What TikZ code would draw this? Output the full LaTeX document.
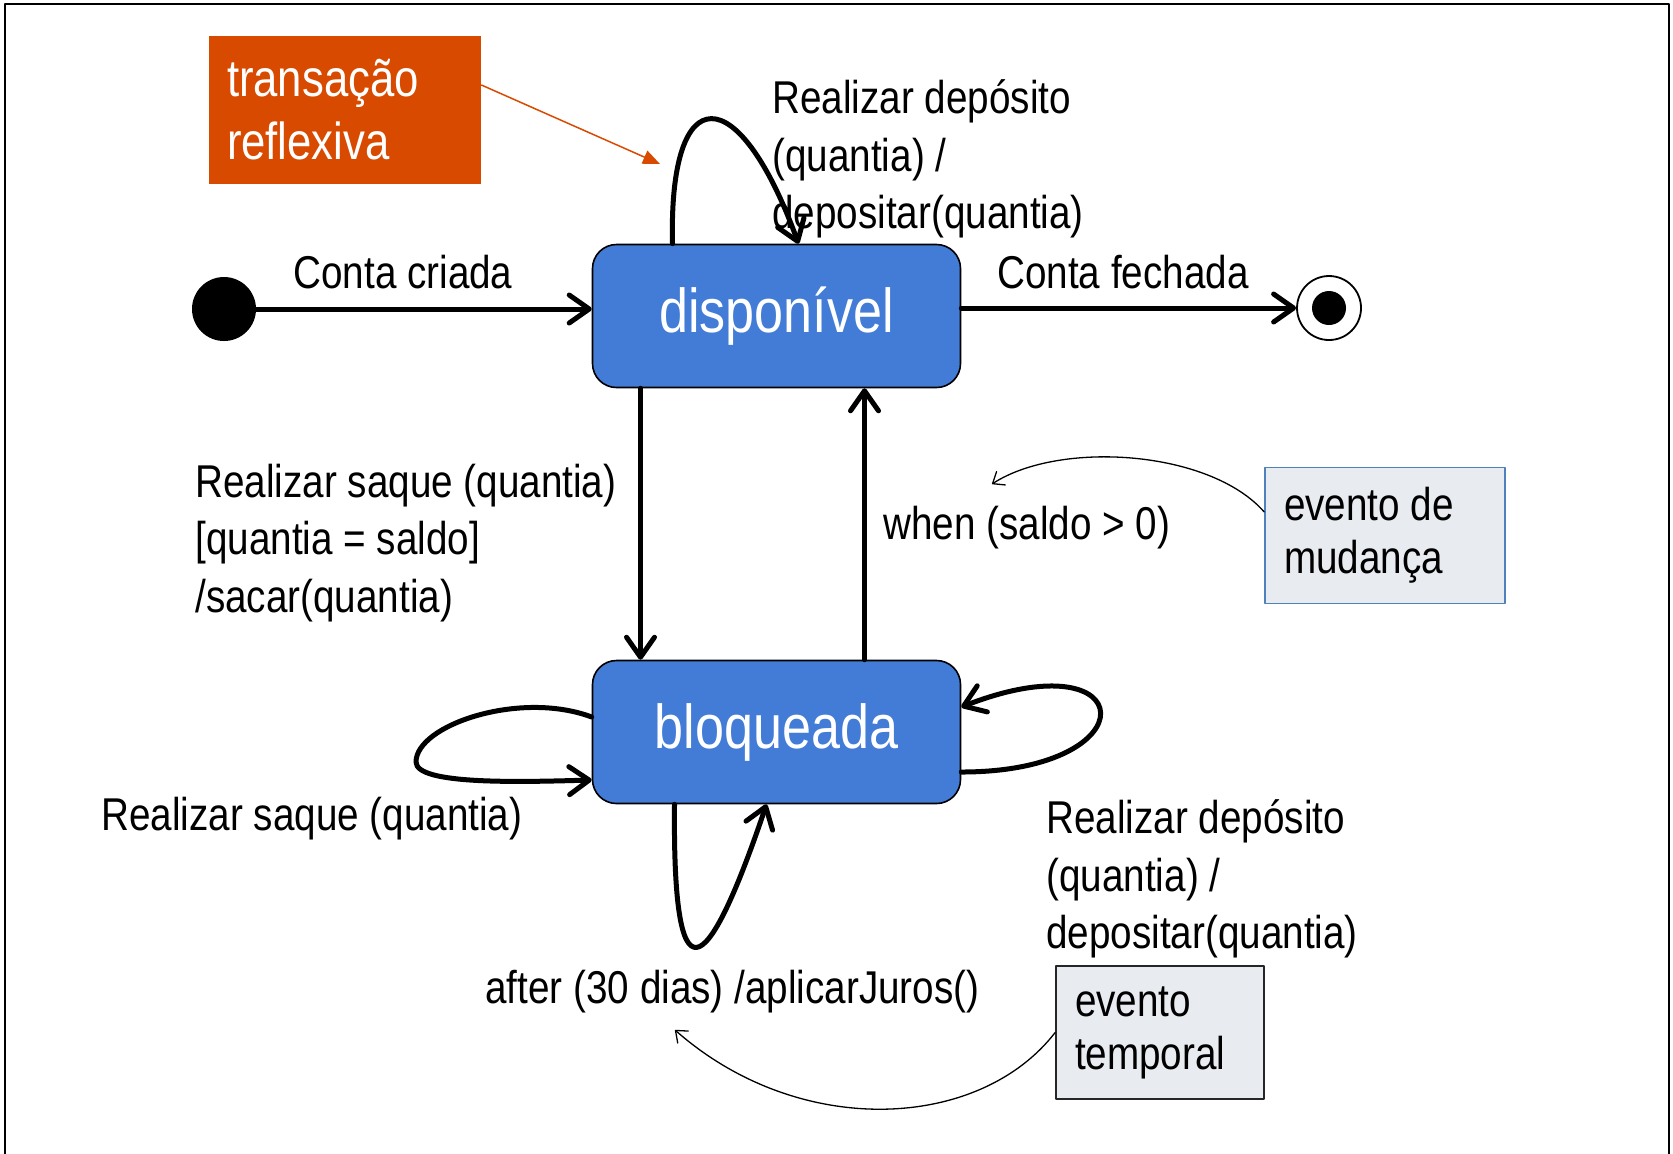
\documentclass[tikz,border=0pt]{standalone}
\usepackage{fontspec}
\setmainfont{Liberation Sans}[FakeStretch=0.84]
\usetikzlibrary{arrows.meta,positioning}
\definecolor{azulest}{RGB}{66,124,214}
\definecolor{laranja}{RGB}{216,74,0}
\definecolor{cinzanota}{RGB}{232,235,240}
\definecolor{bordanota}{RGB}{79,129,189}
\begin{document}
\begin{tikzpicture}[line cap=round,line join=round,x=.5pt,y=-.5pt,
		estado/.style={draw=black,line width=.8pt,fill=azulest,rounded corners=12pt,minimum width=184pt,minimum height=71.5pt,inner sep=0pt,text=white,font=\fontsize{31}{36}\selectfont},
		rotulo/.style={inner sep=0pt,align=left,font=\fontsize{23}{28.8}\selectfont},
		nota/.style={fill=cinzanota,inner xsep=9.5pt,inner ysep=0pt,align=flush left,font=\fontsize{23}{26.5}\selectfont},
		trans/.style={line width=2.5pt,-{Straight Barb[length=10pt,width=14pt,round]}},
		setanota/.style={line width=.65pt,-{Straight Barb[length=5pt,width=8pt,round]}}]
		\useasboundingbox (0,0) rectangle (1673,1153);
		\draw[line width=1pt] (5,1170)--(5,4)--(1669,4)--(1669,1170);
		% estados
		\node[circle,fill=black,minimum size=32pt,inner sep=0pt] (ini) at (224,309) {};
		\node[estado] (disp) at (776.5,316) {disponível};
		\node[estado] (blq) at (776.5,732) {bloqueada};
		\node[circle,draw=black,line width=.9pt,fill=white,minimum size=32pt,inner sep=0pt] (fim) at (1329,308) {};
		\node[circle,fill=black,minimum size=17pt,inner sep=0pt] (fimdot) at (fim) {};
		% transicoes
		\draw[trans] (ini) -- (ini -| disp.west);
		\draw[trans] (disp.east |- fim) -- (fim);
		\draw[trans] ([xshift=-68pt]disp.south) -- ([xshift=-68pt]blq.north);
		\draw[trans] ([xshift=44pt]blq.north) -- ([xshift=44pt]disp.south);
		\draw[trans] ([xshift=-52pt]disp.north) .. controls +(-4,-167) and +(-60,-165) .. ([xshift=11pt]disp.north);
		\draw[trans] ([yshift=7.5pt]blq.west) .. controls (520,690) and (416,725) .. (416,762) .. controls (416,785) and (520,782) .. ([yshift=-24pt]blq.west);
		\draw[trans] ([yshift=-20pt]blq.east) .. controls +(190,0) and +(180,-70) .. ([yshift=12.5pt]blq.east);
		\draw[trans] ([xshift=-51pt]blq.south) .. controls +(-2,200) and +(-61,180) .. ([xshift=-5pt]blq.south);
		% rotulos
		\node[rotulo,anchor=base] (lcriada) at (403,288) {Conta criada};
		\node[rotulo,anchor=base] (lfechada) at (1123,288) {Conta fechada};
		\node[rotulo,anchor=west] (ldep) at (772,159) {Realizar depósito\\(quantia) /\\depositar(quantia)};
		\node[rotulo,anchor=west] (lsaque) at (195,543) {Realizar saque (quantia)\\{[quantia = saldo]}\\/sacar(quantia)};
		\node[rotulo,anchor=west] (lwhen) at (883,528) {when (saldo > 0)};
		\node[rotulo,anchor=west] (lsaque2) at (101,819) {Realizar saque (quantia)};
		\node[rotulo,anchor=west] (ldep2) at (1046,879) {Realizar depósito\\(quantia) /\\depositar(quantia)};
		\node[rotulo,anchor=west] (lafter) at (485,992) {after (30 dias) /aplicarJuros()};
		% notas
		\node[nota,fill=laranja,text=white,inner xsep=9pt,text width=118pt,minimum height=74pt,font=\fontsize{26}{31.5}\selectfont] (refl) at (345,110) {transação\\reflexiva};
		\coordinate (refltip) at (660,164);
		\draw[laranja,line width=.75pt,-{Triangle[length=8.5pt,width=7pt]}] ([yshift=12.5pt]refl.east) -- (refltip);
		\node[nota,draw=bordanota,line width=.75pt,text width=101pt,minimum height=68pt] (mud) at (1385,535.5) {evento de\\mudança};
		\coordinate (mudtip) at (992,484);
		\draw[setanota] ([yshift=11.75pt]mud.west) .. controls (1210,450) and (1060,440) .. (mudtip);
		\node[nota,draw=black!85,line width=.9pt,text width=85pt,minimum height=66.5pt] (temp) at (1160,1032.5) {evento\\temporal};
		\coordinate (temptip) at (675,1030);
		\draw[setanota] (temp.west) .. controls (980,1130) and (800,1140) .. (temptip);
	\end{tikzpicture}
\end{document}
